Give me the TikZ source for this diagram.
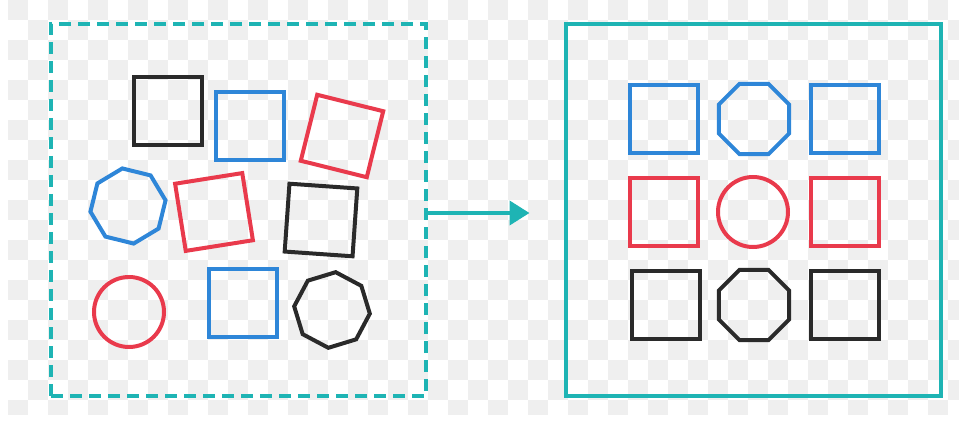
\documentclass[tikz,border=0pt]{standalone}
\usetikzlibrary{shapes.geometric,arrows.meta}
\definecolor{tealline}{HTML}{1EB4B4}
\definecolor{shapeblue}{HTML}{2E86D8}
\definecolor{shapered}{HTML}{E93A4C}
\definecolor{shapeblack}{HTML}{2A2A2A}
\definecolor{checker}{HTML}{EFEFEF}
\tikzset{
  sq/.style={draw, line width=4pt, minimum size=68pt, inner sep=0pt},
  oct/.style={draw, line width=4pt, regular polygon, regular polygon sides=8, minimum size=76pt, inner sep=0pt},
  ring/.style={draw, line width=4pt, circle, minimum size=70pt, inner sep=0pt},
  frame/.style={draw=tealline, line width=4pt, minimum width=375pt, minimum height=372pt, inner sep=0pt}
}
\begin{document}
\begin{tikzpicture}[x=1pt, y=-1pt]
\useasboundingbox (0,0) rectangle (959,422);
% background checker
\begin{scope}
\clip (8,0) rectangle (959,414);
\foreach \i in {0,...,47}{
  \foreach \j in {0,...,20}{
    \pgfmathtruncatemacro{\odd}{mod(\i+\j,2)}
    \ifnum\odd=0 \fill[checker] (8+20*\i, 20*\j) rectangle ++(20,20); \fi
  }
}
\end{scope}
% unsorted shapes
\node[frame, dash pattern=on 12pt off 7pt] (mixed) at (238.5,210) {};
\node[sq, shapeblack] (m1) at (168,111) {};
\node[sq, shapeblue] (m2) at (250,126) {};
\node[sq, shapered, rotate=-14] (m3) at (342,136) {};
\node[oct, shapeblue, rotate=-14] (m4) at (128,206) {};
\node[sq, shapered, rotate=9] (m5) at (214,212) {};
\node[sq, shapeblack, rotate=-4] (m6) at (321,220) {};
\node[ring, shapered] (m7) at (129,312) {};
\node[sq, shapeblue] (m8) at (243,303) {};
\node[oct, shapeblack, rotate=17] (m9) at (332,310) {};
% sorted shapes
\node[frame] (sorted) at (753,210) {};
\node[sq, shapeblue] (s1) at (664,119) {};
\node[oct, shapeblue] (s2) at (754,119) {};
\node[sq, shapeblue] (s3) at (845,119) {};
\node[sq, shapered] (s4) at (664,212) {};
\node[ring, shapered] (s5) at (753,212) {};
\node[sq, shapered] (s6) at (845,212) {};
\node[sq, shapeblack] (s7) at (666,305) {};
\node[oct, shapeblack] (s8) at (754,305) {};
\node[sq, shapeblack] (s9) at (845,305) {};
\draw[tealline, line width=4pt, -{Triangle[length=20pt,width=24pt]}, shorten >=34pt]
  ([yshift=-3pt]mixed.east) -- ([yshift=-3pt]sorted.west);
\end{tikzpicture}
\end{document}
